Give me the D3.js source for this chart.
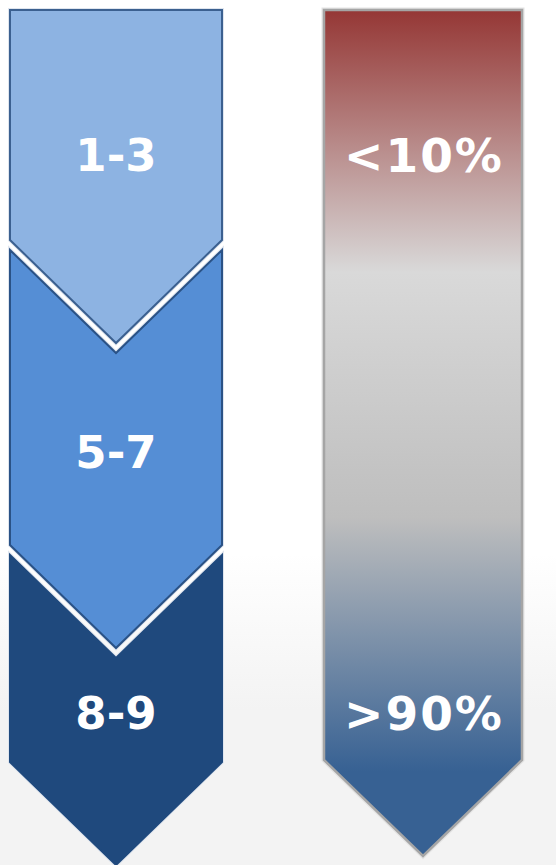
<!DOCTYPE html>
<html>
<head>
<meta charset="utf-8">
<script src="https://cdn.jsdelivr.net/npm/d3@7"></script>
<style>
  html, body { margin: 0; padding: 0; }
  body { width: 556px; height: 865px; overflow: hidden; background: #fff; }
</style>
</head>
<body>
<script>
// categories on the left, shades of blue
const levels = ["1-3", "5-7", "8-9"];
const levelColors = ["#8db3e2", "#558ed5", "#1f497d"];
const levelStrokes = ["#3b6090", "#2a5286", "#1f497d"];

// right arrow labels + gradient stops (offset, colour)
const pctLabels = ["<10%", ">90%"];
const gradOffsets = [0, 0.31, 0.6, 0.9, 1];
const gradColors = ["#953735", "#d9d9d9", "#bebebe", "#376193", "#376193"];

const width = 556, height = 865;

const svg = d3.select("body").append("svg")
  .attr("width", width)
  .attr("height", height);

const defs = svg.append("defs");

// faint grey floor at the bottom of the slide
const bg = defs.append("linearGradient").attr("id", "bg")
  .attr("x1", 0).attr("y1", 0).attr("x2", 0).attr("y2", 1);
bg.append("stop").attr("offset", 0.64).attr("stop-color", "#ffffff");
bg.append("stop").attr("offset", 0.82).attr("stop-color", "#f3f3f3");
bg.append("stop").attr("offset", 1).attr("stop-color", "#f3f3f3");
svg.append("rect").attr("width", width).attr("height", height).attr("fill", "url(#bg)");

const arrowGrad = defs.append("linearGradient").attr("id", "pct")
  .attr("x1", 0).attr("y1", 0).attr("x2", 0).attr("y2", 1);
arrowGrad.selectAll("stop")
  .data(gradOffsets)
  .join("stop")
  .attr("offset", d => d)
  .attr("stop-color", (d, i) => gradColors[i]);

// left column geometry
const xL = d3.scaleLinear().domain([0, 1]).range([10, 222]);
// side top / side bottom of each chevron
const segTop = [10, 250, 555];
const segBot = [240, 545, 762];
const labelY = [155, 452, 713];

function chevron(x0, x1, top, bot, notch) {
  const mid = (x0 + x1) / 2, d = (x1 - x0) / 2 - 3;
  const p = d3.path();
  p.moveTo(x0, top);
  if (notch) p.lineTo(mid, top + d);
  p.lineTo(x1, top);
  p.lineTo(x1, bot);
  p.lineTo(mid, bot + d);
  p.lineTo(x0, bot);
  p.closePath();
  return p.toString();
}

const left = svg.append("g");

// soft halo round the shapes
left.selectAll("path.halo")
  .data(levels)
  .join("path")
  .attr("class", "halo")
  .attr("d", (d, i) => chevron(xL(0), xL(1), segTop[i], segBot[i], i > 0))
  .attr("fill", "none")
  .attr("stroke", "#dfe5ee")
  .attr("stroke-width", 4)
  .attr("stroke-linejoin", "miter");

left.selectAll("path.chev")
  .data(levels)
  .join("path")
  .attr("class", "chev")
  .attr("d", (d, i) => chevron(xL(0), xL(1), segTop[i], segBot[i], i > 0))
  .attr("fill", (d, i) => levelColors[i])
  .attr("stroke", (d, i) => levelStrokes[i])
  .attr("stroke-width", 2)
  .attr("stroke-linejoin", "miter");

left.selectAll("text")
  .data(levels)
  .join("text")
  .attr("x", (xL(0) + xL(1)) / 2)
  .attr("y", (d, i) => labelY[i])
  .attr("dy", "0.36em")
  .attr("text-anchor", "middle")
  .attr("font-family", "DejaVu Sans, Verdana, sans-serif")
  .attr("font-weight", "bold")
  .attr("font-size", 45)
  .attr("fill", "#fff")
  .text(d => d);

// right arrow
const xR = d3.scaleLinear().domain([0, 1]).range([324, 522]);
const yR = d3.scaleLinear().domain([0, 1]).range([10, 760]);

const right = svg.append("g");
right.append("path")
  .attr("d", chevron(xR(0), xR(1), yR(0), yR(1), false))
  .attr("fill", "none")
  .attr("stroke", "#e4e4e4")
  .attr("stroke-width", 5);
right.append("path")
  .attr("d", chevron(xR(0), xR(1), yR(0), yR(1), false))
  .attr("fill", "url(#pct)")
  .attr("stroke", "#a5a5a5")
  .attr("stroke-width", 2.5);

const pctY = [155, 713];
right.selectAll("text")
  .data(pctLabels)
  .join("text")
  .attr("x", (xR(0) + xR(1)) / 2 + 1)
  .attr("y", (d, i) => pctY[i])
  .attr("dy", "0.36em")
  .attr("text-anchor", "middle")
  .attr("font-family", "DejaVu Sans, Verdana, sans-serif")
  .attr("font-weight", "bold")
  .attr("font-size", 47)
  .attr("letter-spacing", 2)
  .attr("fill", "#fff")
  .text(d => d);
</script>
</body>
</html>
